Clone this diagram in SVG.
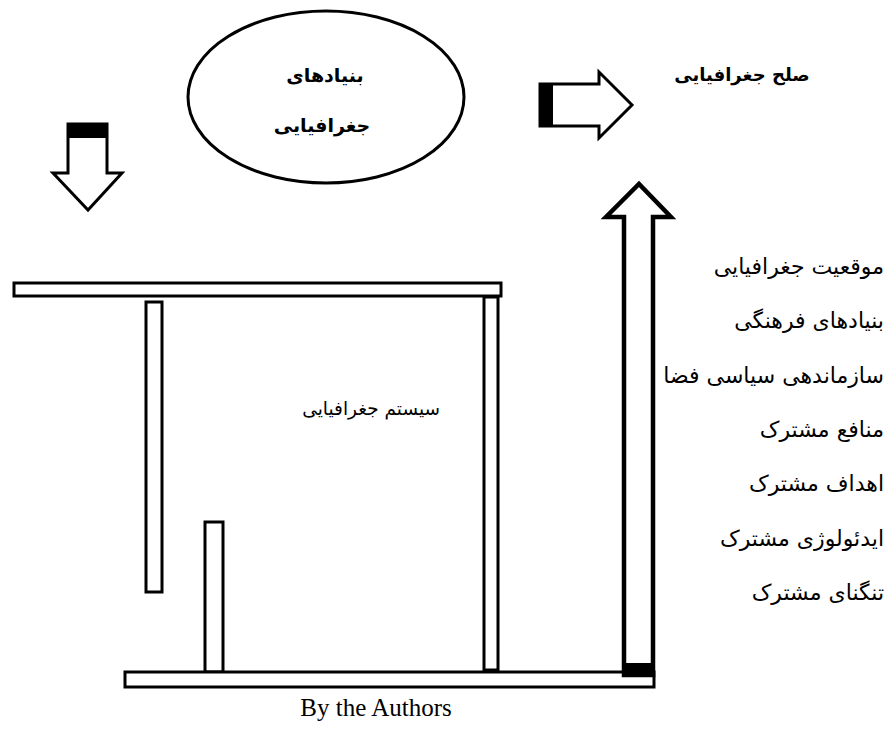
<svg xmlns="http://www.w3.org/2000/svg" width="888" height="730" viewBox="0 0 888 730">
<style>
.bar{fill:#fff;stroke:#000;stroke-width:3}
.arrow{fill:#fff;stroke:#000;stroke-width:3;stroke-linejoin:miter}
.band{fill:#000}
.fa{font-family:"DejaVu Sans","Noto Sans",sans-serif;font-size:22px;fill:#000}
.sys{font-family:"DejaVu Sans","Noto Sans",sans-serif;font-size:18.5px;fill:#000}
.fab{font-family:"DejaVu Sans","Noto Sans",sans-serif;font-size:19px;font-weight:bold;fill:#000}
.en{font-family:"Liberation Serif",serif;font-size:25px;fill:#000}
</style>
<rect width="888" height="730" fill="#fff"/>
<g id="structure">
<rect class="bar" x="14" y="283" width="487" height="13"/>
<rect class="bar" x="146" y="302" width="16" height="290"/>
<rect class="bar" x="484" y="297" width="14" height="373"/>
<rect class="bar" x="205" y="522" width="18" height="150"/>
<rect class="bar" x="125" y="672" width="529" height="15"/>
</g>
<g id="node-ellipse">
<ellipse cx="326" cy="97" rx="138" ry="86" fill="#fff" stroke="#000" stroke-width="3"/>
<text class="fab" x="325" y="82" text-anchor="middle">بنیادهای</text>
<text class="fab" x="322" y="132" text-anchor="middle">جغرافیایی</text>
</g>
<g id="node-peace">
<text class="fab" x="742" y="81" text-anchor="middle" style="font-size:18px">صلح جغرافیایی</text>
</g>
<g id="node-system">
<text class="sys" x="440" y="415" text-anchor="end">سیستم جغرافیایی</text>
</g>
<g id="node-factors">
<text class="fa" x="884" y="274" text-anchor="end">موقعیت جغرافیایی</text>
<text class="fa" x="884" y="328" text-anchor="end">بنیادهای فرهنگی</text>
<text class="fa" x="884" y="383" text-anchor="end">سازماندهی سیاسی فضا</text>
<text class="fa" x="884" y="437" text-anchor="end">منافع مشترک</text>
<text class="fa" x="884" y="491" text-anchor="end">اهداف مشترک</text>
<text class="fa" x="884" y="546" text-anchor="end">ایدئولوژی مشترک</text>
<text class="fa" x="884" y="600" text-anchor="end">تنگنای مشترک</text>
</g>
<g id="connectors">
<polygon class="arrow" points="68,124 107,124 107,173 122,173 88,210 53,173 68,173"/>
<rect class="band" x="68" y="124" width="39" height="14"/>
<polygon class="arrow" points="540,84 599,84 599,72 632,105 599,138 599,126 540,126"/>
<rect class="band" x="540" y="84" width="13" height="42"/>
<polygon class="arrow" points="624,675 624,217 606,217 639,184 671,217 653,217 653,675" style="stroke-width:4.5"/>
<rect class="band" x="624" y="663" width="29" height="12"/>
</g>
<g id="caption">
<text class="en" x="376" y="716" text-anchor="middle">By the Authors</text>
</g>
</svg>
